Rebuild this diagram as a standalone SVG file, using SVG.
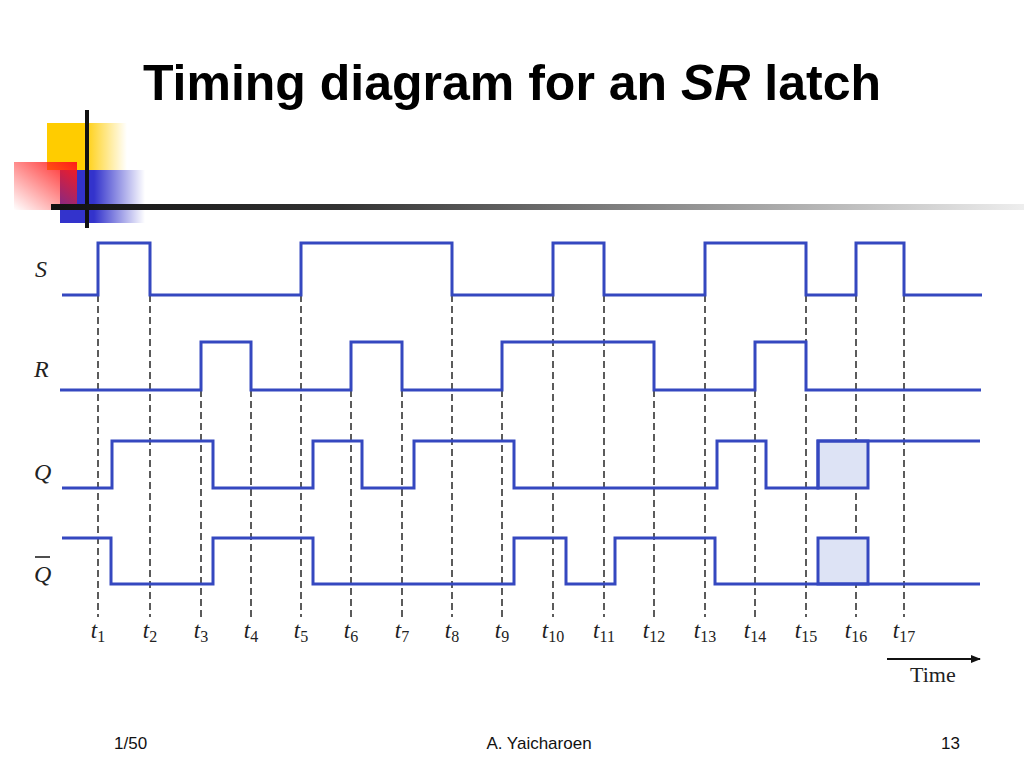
<svg xmlns="http://www.w3.org/2000/svg" width="1024" height="768" viewBox="0 0 1024 768">
<defs>
<linearGradient id="gy" x1="0" y1="0" x2="1" y2="0"><stop offset="0.45" stop-color="#ffcc00"/><stop offset="1" stop-color="#ffcc00" stop-opacity="0"/></linearGradient>
<linearGradient id="gb" x1="0" y1="0" x2="1" y2="0"><stop offset="0.4" stop-color="#3333cc"/><stop offset="1" stop-color="#3333cc" stop-opacity="0"/></linearGradient>
<linearGradient id="gr" x1="1" y1="0" x2="0" y2="1"><stop offset="0" stop-color="#ff1a1a"/><stop offset="1" stop-color="#ff1a1a" stop-opacity="0"/></linearGradient>
<linearGradient id="gl" x1="0" y1="0" x2="1" y2="0"><stop offset="0" stop-color="#111"/><stop offset="0.3" stop-color="#333"/><stop offset="1" stop-color="#eee"/></linearGradient>
<marker id="arr" markerWidth="10" markerHeight="8" refX="9" refY="4" orient="auto" markerUnits="userSpaceOnUse"><path d="M0,0 L10,4 L0,8 z" fill="#111"/></marker>
<style>
.title{font-family:"Liberation Sans",Arial,sans-serif;font-weight:bold;font-size:50px;fill:#000}
.sig{fill:none;stroke:#3548c0;stroke-width:3;stroke-linejoin:miter}
.box{fill:#dde3f5;stroke:#3548c0;stroke-width:3}
.dash{stroke:#333;stroke-width:1.6;stroke-dasharray:7,4;fill:none}
.lbl{font-family:"Liberation Serif","Times New Roman",serif;font-style:italic;font-size:24px;fill:#222}
.tl{font-family:"Liberation Serif","Times New Roman",serif;font-style:italic;font-size:23px;fill:#222;text-anchor:middle}
.sub{font-size:16px;font-style:normal}
.foot{font-family:"Liberation Sans",Arial,sans-serif;font-size:17px;fill:#111}
.time{font-family:"Liberation Serif","Times New Roman",serif;font-size:22px;fill:#222}
</style>
</defs>
<rect width="1024" height="768" fill="#fff"/>
<g id="logo">
<rect x="47" y="123" width="80" height="47" fill="url(#gy)"/>
<rect x="60" y="170" width="85" height="53" fill="url(#gb)"/>
<rect x="14" y="162" width="63" height="48" fill="url(#gr)"/>
<rect x="85" y="110" width="4" height="118" fill="#111"/>
<rect x="51" y="204" width="973" height="6" fill="url(#gl)"/>
</g>
<text id="title" class="title" x="512" y="100" text-anchor="middle">Timing diagram for an <tspan font-style="italic">SR</tspan> latch</text>
<g id="labels">
<text class="lbl" x="35" y="277">S</text>
<text class="lbl" x="34" y="377">R</text>
<text class="lbl" x="34" y="480">Q</text>
<text class="lbl" x="34" y="582">Q</text>
<line x1="35" y1="557" x2="50" y2="557" stroke="#222" stroke-width="1.6"/>
</g>
<g id="connectors">
<line class="dash" x1="98" y1="295" x2="98" y2="617"/>
<line class="dash" x1="150" y1="295" x2="150" y2="617"/>
<line class="dash" x1="201" y1="390" x2="201" y2="617"/>
<line class="dash" x1="251" y1="390" x2="251" y2="617"/>
<line class="dash" x1="301" y1="295" x2="301" y2="617"/>
<line class="dash" x1="351" y1="390" x2="351" y2="617"/>
<line class="dash" x1="402" y1="390" x2="402" y2="617"/>
<line class="dash" x1="452" y1="295" x2="452" y2="617"/>
<line class="dash" x1="502" y1="390" x2="502" y2="617"/>
<line class="dash" x1="553" y1="295" x2="553" y2="617"/>
<line class="dash" x1="604" y1="295" x2="604" y2="617"/>
<line class="dash" x1="654" y1="390" x2="654" y2="617"/>
<line class="dash" x1="705" y1="295" x2="705" y2="617"/>
<line class="dash" x1="755" y1="390" x2="755" y2="617"/>
<line class="dash" x1="806" y1="295" x2="806" y2="617"/>
<line class="dash" x1="856" y1="295" x2="856" y2="617"/>
<line class="dash" x1="904" y1="295" x2="904" y2="617"/>
</g>
<g id="signals">
<rect class="box" x="818" y="441" width="50" height="47"/>
<rect class="box" x="818" y="538" width="50" height="46"/>
<path class="sig" d="M62,295 H98 V243 H150 V295 H301 V243 H452 V295 H553 V243 H604 V295 H705 V243 H806 V295 H856 V243 H904 V295 H982"/>
<path class="sig" d="M60,390 H201 V342 H251 V390 H351 V342 H402 V390 H502 V342 H654 V390 H755 V342 H806 V390 H981"/>
<path class="sig" d="M62,488 H112 V441 H213 V488 H313 V441 H362 V488 H414 V441 H514 V488 H717 V441 H766 V488 H818 V441 H980"/>
<path class="sig" d="M62,538 H111 V584 H213 V538 H313 V584 H514 V538 H566 V584 H615 V538 H715 V584 H980"/>
</g>
<g id="tlabels">
<text class="tl" x="98" y="638">t<tspan class="sub" dy="4">1</tspan></text>
<text class="tl" x="150" y="638">t<tspan class="sub" dy="4">2</tspan></text>
<text class="tl" x="201" y="638">t<tspan class="sub" dy="4">3</tspan></text>
<text class="tl" x="251" y="638">t<tspan class="sub" dy="4">4</tspan></text>
<text class="tl" x="301" y="638">t<tspan class="sub" dy="4">5</tspan></text>
<text class="tl" x="351" y="638">t<tspan class="sub" dy="4">6</tspan></text>
<text class="tl" x="402" y="638">t<tspan class="sub" dy="4">7</tspan></text>
<text class="tl" x="452" y="638">t<tspan class="sub" dy="4">8</tspan></text>
<text class="tl" x="502" y="638">t<tspan class="sub" dy="4">9</tspan></text>
<text class="tl" x="553" y="638">t<tspan class="sub" dy="4">10</tspan></text>
<text class="tl" x="604" y="638">t<tspan class="sub" dy="4">11</tspan></text>
<text class="tl" x="654" y="638">t<tspan class="sub" dy="4">12</tspan></text>
<text class="tl" x="705" y="638">t<tspan class="sub" dy="4">13</tspan></text>
<text class="tl" x="755" y="638">t<tspan class="sub" dy="4">14</tspan></text>
<text class="tl" x="806" y="638">t<tspan class="sub" dy="4">15</tspan></text>
<text class="tl" x="856" y="638">t<tspan class="sub" dy="4">16</tspan></text>
<text class="tl" x="904" y="638">t<tspan class="sub" dy="4">17</tspan></text>
</g>
<g id="time">
<line x1="887" y1="659" x2="980" y2="659" stroke="#111" stroke-width="2" marker-end="url(#arr)"/>
<text class="time" x="910" y="682">Time</text>
</g>
<g id="footer">
<text class="foot" x="114" y="749">1/50</text>
<text class="foot" x="539" y="749" text-anchor="middle">A. Yaicharoen</text>
<text class="foot" x="941" y="749">13</text>
</g>
</svg>
